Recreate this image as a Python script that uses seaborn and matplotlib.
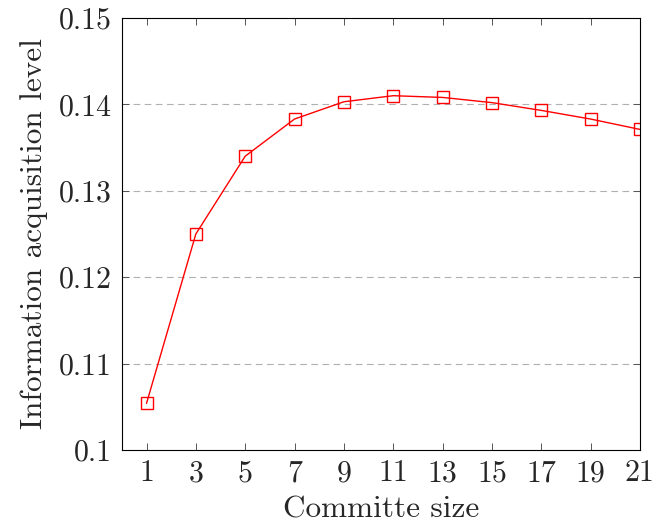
import matplotlib
matplotlib.use("Agg")
import matplotlib.pyplot as plt
import seaborn as sns
import pandas as pd

committee_size = [1, 3, 5, 7, 9, 11, 13, 15, 17, 19, 21]
info_level = [0.1054, 0.1250, 0.1340, 0.1383, 0.1403, 0.1410, 0.1408, 0.1402, 0.1393, 0.1383, 0.1371]
y_ticks = [0.10, 0.11, 0.12, 0.13, 0.14, 0.15]
y_tick_labels = ["0.1", "0.11", "0.12", "0.13", "0.14", "0.15"]

df = pd.DataFrame({"size": committee_size, "level": info_level})

sns.set_style("ticks")
plt.rcParams["font.family"] = ["cmr10", "DejaVu Serif"]
plt.rcParams["axes.formatter.use_mathtext"] = True
plt.rcParams["mathtext.fontset"] = "cm"

fig = plt.figure(figsize=(6.55, 5.27), dpi=100)
ax = fig.add_axes([0.186, 0.146, 0.791, 0.820])

sns.lineplot(data=df, x="size", y="level", ax=ax, color="red", linewidth=1.0,
             marker="s", markersize=8.5, markerfacecolor="none",
             markeredgecolor="red", markeredgewidth=1.0)

ax.set_xlim(0, 21)
ax.set_ylim(0.10, 0.15)
ax.set_xticks(committee_size)
ax.set_xticklabels([str(v) for v in committee_size])
ax.set_yticks(y_ticks)
ax.set_yticklabels(y_tick_labels)

for yv in y_ticks[1:-1]:
    ax.axhline(yv, color="#b0b0b0", linestyle=(0, (6, 4)), linewidth=0.8, zorder=0)

ax.tick_params(direction="in", top=True, right=True, length=5, width=0.7,
               labelsize=21.5, color="#555555", pad=7)
for sp in ax.spines.values():
    sp.set_linewidth(0.8)
    sp.set_color("black")

ax.set_xlabel("Committe size", fontsize=22.5, labelpad=6)
ax.set_ylabel("Information acquisition level", fontsize=22.5, labelpad=8)

fig.savefig("out.png", dpi=100)
